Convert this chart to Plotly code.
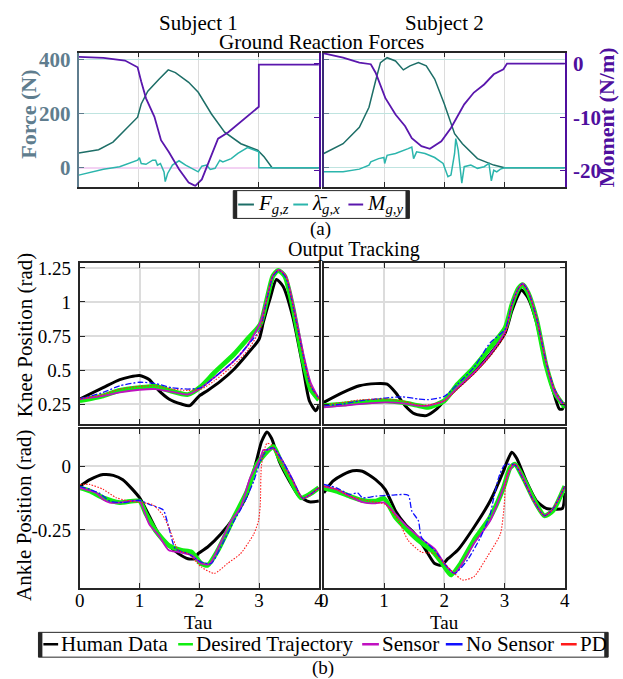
import plotly.graph_objects as go

# ---------------- Ground reaction forces (a) ----------------
# Subject 1
tau_fz1 = [0, 0.33, 0.57, 0.79, 0.98, 1.04, 1.15, 1.34, 1.49, 1.61, 1.83, 1.99, 2.21, 2.43, 2.70, 2.98, 3.09, 3.22, 4.0]
fz1 = [55, 67, 95, 144, 187, 236, 283, 328, 362, 352, 316, 279, 199, 132, 89, 65, 40, 0, 0]

tau_lx1 = [0, 0.41, 0.68, 0.98, 1.01, 1.04, 1.12, 1.23, 1.28, 1.31, 1.36, 1.42, 1.44, 1.48, 1.56, 1.67, 1.78,
           1.99, 2.05, 2.13, 2.19, 2.27, 2.35, 2.40, 2.54, 2.65, 2.81, 2.92, 2.999, 3.0, 4.0]
lx1 = [-27, -5, 4, 28, 37, 16, 13, 28, 28, 10, 16, -15, -51, -21, 10, 26, 10,
       -15, 6, 10, -6, -2, 28, 22, 34, 53, 75, 65, 59, 0, 0]

tau_my1 = [0, 0.41, 0.77, 0.90, 0.98, 1.04, 1.12, 1.26, 1.37, 1.50, 1.67, 1.83, 1.94, 2.05, 2.16, 2.32,
           2.49, 2.70, 2.999, 3.0, 4.0]
my1 = [1.26, 1.07, 0.57, -0.19, -0.69, -3.33, -6.48, -9.94, -14.3, -16.5, -19.7, -22.2, -22.8, -21.6, -18.4, -14.0,
       -12.8, -10.9, -8.05, -0.19, -0.19]

# Subject 2
tau_fz2 = [0, 0.32, 0.59, 0.75, 0.86, 0.94, 1.05, 1.19, 1.32, 1.43, 1.57, 1.70, 1.84, 2.0, 2.17, 2.30, 2.55, 2.82, 3.0, 4.0]
fz2 = [53, 89, 150, 224, 322, 389, 407, 395, 362, 377, 389, 377, 328, 236, 126, 89, 34, 10, 0, 0]

tau_lx2 = [0, 0.32, 0.59, 0.75, 0.78, 0.91, 0.997, 1.01, 1.05, 1.19, 1.40, 1.46, 1.49, 1.54, 1.68, 1.84, 1.98,
           2.06, 2.11, 2.17, 2.19, 2.23, 2.29, 2.33, 2.44, 2.55, 2.66, 2.74, 2.78, 2.82, 2.87, 2.93, 3.0, 4.0]
lx2 = [-15, -15, -5, 10, 22, 34, 38, 16, 46, 53, 71, 77, 34, 59, 53, 38, 16,
       -33, -27, 53, 108, 65, -57, 4, 10, -2, 4, 16, -48, -9, -15, -5, 0, 0]

tau_my2 = [0, 0.32, 0.59, 0.78, 0.86, 1.02, 1.19, 1.35, 1.46, 1.62, 1.76, 1.95, 2.11, 2.33, 2.49, 2.66, 2.82,
           2.98, 3.04, 4.0]
my2 = [1.9, 1.1, 0.19, -0.12, -1.7, -6.4, -9.5, -11.7, -13.9, -15.4, -15.9, -14.5, -12.0, -7.6, -5.4, -3.9, -2.0,
       -1.06, 0, 0]

# ---------------- Output tracking (b) ----------------
# Knee, subject 1
tk_h1 = [0, 0.39, 0.67, 1.0, 1.16, 1.32, 1.49, 1.70, 1.84, 2.0, 2.14, 2.36, 2.58, 2.80, 3.0, 3.07, 3.18, 3.29, 3.40, 3.56, 3.73, 3.84, 3.95, 4.0]
knee_h1 = [0.287, 0.37, 0.43, 0.46, 0.43, 0.35, 0.287, 0.25, 0.238, 0.31, 0.35, 0.42, 0.506, 0.616, 0.726, 0.85, 1.02, 1.165, 1.116, 0.896, 0.53, 0.274, 0.20, 0.24]
tk_d1 = [0, 0.39, 0.67, 1.0, 1.27, 1.49, 1.81, 2.03, 2.25, 2.58, 2.80, 3.02, 3.13, 3.23, 3.32, 3.43, 3.56, 3.73, 3.86, 4.0]
knee_d1 = [0.275, 0.31, 0.35, 0.37, 0.38, 0.35, 0.32, 0.38, 0.48, 0.616, 0.726, 0.835, 1.02, 1.19, 1.233, 1.19, 0.97, 0.58, 0.36, 0.28]
tk_c1 = [0, 0.39, 0.67, 1.0, 1.27, 1.54, 1.81, 2.03, 2.25, 2.58, 2.80, 3.02, 3.13, 3.23, 3.33, 3.45, 3.59, 3.75, 3.86, 4.0]
knee_s1 = [0.287, 0.31, 0.335, 0.355, 0.36, 0.34, 0.32, 0.37, 0.445, 0.567, 0.677, 0.85, 1.03, 1.19, 1.238, 1.19, 0.945, 0.60, 0.41, 0.29]
knee_n1 = [0.287, 0.335, 0.384, 0.41, 0.40, 0.37, 0.36, 0.37, 0.445, 0.567, 0.677, 0.80, 1.02, 1.19, 1.233, 1.177, 0.92, 0.58, 0.384, 0.29]
knee_p1 = [0.287, 0.32, 0.36, 0.38, 0.384, 0.36, 0.35, 0.36, 0.42, 0.54, 0.64, 0.80, 1.02, 1.20, 1.233, 1.19, 0.92, 0.58, 0.384, 0.29]

# Knee, subject 2
tk_h2 = [0, 0.32, 0.59, 0.86, 1.05, 1.19, 1.35, 1.51, 1.70, 1.87, 2.0, 2.22, 2.49, 2.76, 3.01, 3.12, 3.23, 3.28, 3.39, 3.53, 3.69, 3.83, 3.91, 3.96, 4.0]
knee_h2 = [0.262, 0.335, 0.384, 0.40, 0.396, 0.335, 0.238, 0.177, 0.165, 0.213, 0.274, 0.372, 0.482, 0.616, 0.774, 0.933, 1.055, 1.09, 1.03, 0.85, 0.53, 0.31, 0.213, 0.213, 0.262]
tk_c2 = [0, 0.32, 0.59, 1.02, 1.30, 1.57, 1.73, 2.0, 2.22, 2.49, 2.76, 3.01, 3.12, 3.23, 3.30, 3.39, 3.53, 3.69, 3.83, 3.94, 4.0]
knee_d2 = [0.238, 0.25, 0.262, 0.274, 0.262, 0.238, 0.226, 0.274, 0.396, 0.518, 0.665, 0.81, 0.98, 1.10, 1.128, 1.067, 0.872, 0.53, 0.335, 0.262, 0.226]
knee_s2 = [0.226, 0.238, 0.25, 0.262, 0.257, 0.238, 0.238, 0.274, 0.372, 0.48, 0.616, 0.786, 0.98, 1.10, 1.135, 1.08, 0.884, 0.555, 0.335, 0.262, 0.238]
knee_n2 = [0.238, 0.25, 0.274, 0.294, 0.303, 0.287, 0.282, 0.306, 0.396, 0.518, 0.70, 0.80, 0.98, 1.10, 1.135, 1.08, 0.884, 0.555, 0.36, 0.274, 0.238]
knee_p2 = [0.243, 0.262, 0.28, 0.287, 0.274, 0.243, 0.243, 0.274, 0.36, 0.47, 0.60, 0.76, 0.98, 1.10, 1.128, 1.08, 0.884, 0.555, 0.36, 0.274, 0.238]

# Ankle, subject 1
ta_h1 = [0, 0.17, 0.39, 0.56, 0.72, 1.0, 1.16, 1.32, 1.49, 1.65, 1.81, 1.92, 1.98, 2.14, 2.36, 2.58, 2.80, 2.96, 3.04, 3.13, 3.21, 3.34, 3.51, 3.67, 3.84, 4.0]
ankle_h1 = [-0.078, -0.052, -0.032, -0.035, -0.052, -0.123, -0.194, -0.266, -0.311, -0.343, -0.363, -0.363, -0.343, -0.317, -0.266, -0.20, -0.11, 0.026, 0.097, 0.136, 0.11, 0.019, -0.058, -0.117, -0.139, -0.136]
ta_d1 = [0, 0.17, 0.39, 0.67, 1.0, 1.11, 1.27, 1.49, 1.70, 1.87, 2.03, 2.14, 2.31, 2.58, 2.80, 2.96, 3.13, 3.24, 3.34, 3.51, 3.70, 3.84, 4.0]
ankle_d1 = [-0.084, -0.097, -0.123, -0.142, -0.136, -0.188, -0.253, -0.311, -0.33, -0.337, -0.382, -0.389, -0.33, -0.20, -0.097, 0.006, 0.058, 0.078, 0.032, -0.045, -0.123, -0.11, -0.084]
ta_s1 = [0, 0.28, 0.39, 0.50, 0.67, 0.83, 1.0, 1.16, 1.32, 1.49, 1.65, 1.87, 2.03, 2.17, 2.31, 2.53, 2.69, 2.85, 3.02, 3.07, 3.13, 3.24, 3.40, 3.56, 3.73, 3.86, 4.0]
ankle_s1 = [-0.084, -0.104, -0.13, -0.142, -0.142, -0.136, -0.136, -0.227, -0.272, -0.33, -0.337, -0.35, -0.382, -0.385, -0.324, -0.214, -0.162, -0.045, 0.032, 0.065, 0.065, 0.071, 0.019, -0.052, -0.126, -0.11, -0.084]
ta_n1 = [0, 0.17, 0.34, 0.50, 0.72, 1.0, 1.16, 1.32, 1.40, 1.49, 1.60, 1.81, 2.03, 2.20, 2.36, 2.58, 2.74, 2.91, 3.02, 3.13, 3.24, 3.40, 3.56, 3.73, 3.86, 4.0]
ankle_n1 = [-0.078, -0.09, -0.107, -0.136, -0.142, -0.133, -0.149, -0.162, -0.172, -0.24, -0.324, -0.343, -0.376, -0.382, -0.317, -0.214, -0.149, -0.058, 0.019, 0.065, 0.074, 0.019, -0.052, -0.126, -0.11, -0.084]
ta_p1 = [0, 0.17, 0.39, 0.61, 0.83, 1.0, 1.21, 1.38, 1.49, 1.65, 1.81, 2.03, 2.25, 2.47, 2.69, 2.91, 2.99, 3.02, 3.04, 3.13, 3.21, 3.37, 3.56, 3.73, 3.86, 4.0]
ankle_p1 = [-0.071, -0.071, -0.09, -0.123, -0.136, -0.142, -0.149, -0.188, -0.24, -0.33, -0.343, -0.395, -0.421, -0.382, -0.343, -0.266, -0.214, -0.149, 0.006, 0.091, 0.084, 0.013, -0.058, -0.126, -0.11, -0.084]

# Ankle, subject 2
ta_h2 = [0, 0.15, 0.32, 0.48, 0.64, 0.86, 1.02, 1.19, 1.35, 1.51, 1.68, 1.84, 1.95, 2.06, 2.22, 2.49, 2.76, 2.98, 3.04, 3.12, 3.20, 3.36, 3.53, 3.69, 3.85, 3.96, 4.0]
ankle_h2 = [-0.104, -0.058, -0.032, -0.017, -0.019, -0.052, -0.091, -0.175, -0.227, -0.266, -0.324, -0.382, -0.389, -0.363, -0.33, -0.24, -0.136, -0.019, 0.019, 0.056, 0.032, -0.058, -0.136, -0.165, -0.168, -0.165, -0.104]
ta_d2 = [0, 0.21, 0.43, 0.64, 0.86, 1.0, 1.19, 1.40, 1.57, 1.79, 1.95, 2.11, 2.27, 2.49, 2.76, 2.98, 3.09, 3.17, 3.31, 3.47, 3.66, 3.80, 4.0]
ankle_d2 = [-0.084, -0.097, -0.117, -0.133, -0.136, -0.126, -0.20, -0.253, -0.291, -0.33, -0.376, -0.427, -0.382, -0.291, -0.20, -0.084, -0.006, 0.009, -0.045, -0.123, -0.194, -0.175, -0.078]
ta_s2 = [0, 0.21, 0.43, 0.64, 0.86, 1.0, 1.19, 1.40, 1.62, 1.84, 2.0, 2.17, 2.33, 2.49, 2.76, 2.98, 3.09, 3.17, 3.31, 3.47, 3.66, 3.80, 4.0]
ankle_s2 = [-0.078, -0.09, -0.117, -0.14, -0.145, -0.142, -0.188, -0.24, -0.285, -0.324, -0.382, -0.421, -0.369, -0.304, -0.214, -0.084, -0.013, 0.009, -0.045, -0.13, -0.194, -0.168, -0.078]
ta_n2 = [0, 0.21, 0.43, 0.56, 0.64, 0.86, 1.13, 1.40, 1.46, 1.57, 1.62, 1.84, 2.0, 2.17, 2.38, 2.60, 2.76, 2.82, 2.90, 3.0, 3.17, 3.31, 3.47, 3.66, 3.80, 4.0]
ankle_n2 = [-0.071, -0.084, -0.11, -0.104, -0.123, -0.117, -0.113, -0.113, -0.175, -0.214, -0.279, -0.33, -0.382, -0.421, -0.369, -0.279, -0.188, -0.123, -0.045, 0.006, 0.006, -0.052, -0.13, -0.194, -0.168, -0.078]
ta_p2 = [0, 0.21, 0.43, 0.75, 1.02, 1.24, 1.40, 1.62, 1.84, 2.0, 2.17, 2.30, 2.49, 2.71, 2.93, 2.99, 3.03, 3.12, 3.20, 3.31, 3.47, 3.66, 3.80, 4.0]
ankle_p2 = [-0.078, -0.09, -0.117, -0.136, -0.149, -0.214, -0.291, -0.337, -0.343, -0.382, -0.421, -0.447, -0.434, -0.356, -0.266, -0.162, -0.045, 0.006, 0.006, -0.052, -0.13, -0.194, -0.168, -0.078]

# legend labels
grf_labels = ["<i>F</i><sub><i>g,z</i></sub>", "<i>λ\u0304</i><sub><i>g,x</i></sub>", "<i>M</i><sub><i>g,y</i></sub>"]
track_labels = ["Human Data", "Desired Trajectory", "Sensor", "No Sensor", "PD"]

# ---------------- figure ----------------
W, H = 623, 679
FONT = "Liberation Serif"
SLATE = "#5f7d8e"
PURPLE = "#4f0f9e"
C_FZ = "#1d6e67"
C_LX = "#2bb5ac"
C_MY = "#5a17ad"
FRAME = "#262626"
GRID = "#dcdcdc"


def xd(a, b):
    return [a / W, b / W]


def yd(top, bottom):
    return [1 - bottom / H, 1 - top / H]


fig = go.Figure()

grf_colors = [C_FZ, C_LX, C_MY]
fig.add_trace(go.Scatter(x=tau_fz1, y=fz1, mode="lines", line=dict(color=C_FZ, width=1.5),
                         name=grf_labels[0], xaxis="x", yaxis="y"))
fig.add_trace(go.Scatter(x=tau_lx1, y=lx1, mode="lines", line=dict(color=C_LX, width=1.5),
                         name=grf_labels[1], xaxis="x", yaxis="y"))
fig.add_trace(go.Scatter(x=tau_my1, y=my1, mode="lines", line=dict(color=C_MY, width=1.8),
                         name=grf_labels[2], xaxis="x", yaxis="y2"))
fig.add_trace(go.Scatter(x=tau_fz2, y=fz2, mode="lines", line=dict(color=C_FZ, width=1.5),
                         name=grf_labels[0], xaxis="x2", yaxis="y3"))
fig.add_trace(go.Scatter(x=tau_lx2, y=lx2, mode="lines", line=dict(color=C_LX, width=1.5),
                         name=grf_labels[1], xaxis="x2", yaxis="y3"))
fig.add_trace(go.Scatter(x=tau_my2, y=my2, mode="lines", line=dict(color=C_MY, width=1.8),
                         name=grf_labels[2], xaxis="x2", yaxis="y4"))

styles = {
    "Human Data": dict(color="black", width=3),
    "Desired Trajectory": dict(color="#11ee11", width=4.8),
    "Sensor": dict(color="#c010c0", width=1.8),
    "No Sensor": dict(color="#1010ff", width=1.3, dash="6px,2px,2px,2px"),
    "PD": dict(color="#ff1a1a", width=1.1, dash="1.5px,1.5px"),
}

panels = [
    ("x3", "y5", [(tk_h1, knee_h1), (tk_d1, knee_d1), (tk_c1, knee_s1), (tk_c1, knee_n1), (tk_c1, knee_p1)]),
    ("x4", "y6", [(tk_h2, knee_h2), (tk_c2, knee_d2), (tk_c2, knee_s2), (tk_c2, knee_n2), (tk_c2, knee_p2)]),
    ("x5", "y7", [(ta_h1, ankle_h1), (ta_d1, ankle_d1), (ta_s1, ankle_s1), (ta_n1, ankle_n1), (ta_p1, ankle_p1)]),
    ("x6", "y8", [(ta_h2, ankle_h2), (ta_d2, ankle_d2), (ta_s2, ankle_s2), (ta_n2, ankle_n2), (ta_p2, ankle_p2)]),
]
for xa, ya, series in panels:
    for name, (tx, vy) in zip(track_labels, series):
        fig.add_trace(go.Scatter(x=tx, y=vy, mode="lines", name=name,
                                 line=dict(shape="spline", smoothing=0.6, **styles[name]),
                                 xaxis=xa, yaxis=ya))

tickfont_b = dict(family=FONT, size=19, color="black")

common_x = dict(range=[0, 4], tickvals=[0, 1, 2, 3, 4], showgrid=True, gridcolor=GRID, gridwidth=1.5,
                showline=True, linecolor=FRAME, linewidth=2, mirror="ticks", ticks="inside",
                ticklen=5, tickcolor=FRAME, zeroline=False, fixedrange=True)

top_x = dict(common_x, linewidth=1.5, gridwidth=1.2, showticklabels=False)
fig.update_layout(
    xaxis=dict(top_x, domain=xd(75, 319), anchor="y"),
    xaxis2=dict(top_x, domain=xd(324, 569), anchor="y3"),
    yaxis=dict(domain=yd(48, 183), range=[-69.7, 425.7], anchor="x", tickvals=[0, 200, 400],
               showgrid=True, gridcolor="#bfe4e0", gridwidth=1.2, zeroline=True, zerolinecolor="#f3d2f3",
               zerolinewidth=1.5, showline=True, linecolor=SLATE, linewidth=2, ticks="inside", ticklen=5,
               tickcolor=SLATE, tickfont=dict(family=FONT, size=21, color=SLATE, weight="bold"),
               ticklabelstandoff=2, fixedrange=True),
    yaxis2=dict(domain=yd(48, 183), range=[-22.96, 2.04], overlaying="y", anchor="x", side="right",
                showgrid=False, zeroline=False, showline=True, linecolor=PURPLE, linewidth=2,
                ticks="inside", ticklen=5, tickcolor=PURPLE, tickvals=[-20, -10, 0], showticklabels=False,
                fixedrange=True),
    yaxis3=dict(domain=yd(48, 183), range=[-69.7, 425.7], anchor="x2", tickvals=[0, 200, 400],
                showgrid=True, gridcolor="#bfe4e0", gridwidth=1.2, zeroline=True, zerolinecolor="#bfe4e0",
                zerolinewidth=1.2, showline=True, linecolor="#3b2a78", linewidth=2, ticks="inside", ticklen=5,
                tickcolor=SLATE, showticklabels=False, fixedrange=True),
    yaxis4=dict(domain=yd(48, 183), range=[-22.96, 2.04], overlaying="y3", anchor="x2", side="right",
                showgrid=False, zeroline=False, showline=True, linecolor=PURPLE, linewidth=2,
                ticks="inside", ticklen=5, tickcolor=PURPLE, tickvals=[-20, -10, 0], ticktext=["-20", "-10", "0"],
                tickfont=dict(family=FONT, size=21, color=PURPLE, weight="bold"), ticklabelstandoff=2,
                fixedrange=True),
    xaxis3=dict(common_x, domain=xd(76, 319), anchor="y5", showticklabels=False),
    xaxis4=dict(common_x, domain=xd(324, 569), anchor="y6", showticklabels=False),
    xaxis5=dict(common_x, domain=xd(76, 319), anchor="y7", tickfont=tickfont_b, ticklabelstandoff=-5),
    xaxis6=dict(common_x, domain=xd(324, 569), anchor="y8", tickfont=tickfont_b, ticklabelstandoff=-5),
)

common_y = dict(showgrid=True, gridcolor=GRID, gridwidth=1.5, showline=True, linecolor=FRAME, linewidth=2,
                mirror="ticks", ticks="inside", ticklen=5, tickcolor=FRAME, zeroline=False, fixedrange=True,
                tickfont=tickfont_b, ticklabelstandoff=3)
knee_ticks = [0.25, 0.5, 0.75, 1, 1.25]
knee_text = ["0.25", "0.5", "0.75", "1", "1.25"]
ankle_ticks = [-0.25, 0]
ankle_text = ["-0.25", "0"]
fig.update_layout(
    yaxis5=dict(common_y, domain=yd(260, 422), range=[0.104, 1.286], anchor="x3", tickvals=knee_ticks, ticktext=knee_text),
    yaxis6=dict(common_y, domain=yd(260, 422), range=[0.104, 1.286], anchor="x4", tickvals=knee_ticks, showticklabels=False),
    yaxis7=dict(common_y, domain=yd(427, 587), range=[-0.477, 0.148], anchor="x5", tickvals=ankle_ticks, ticktext=ankle_text),
    yaxis8=dict(common_y, domain=yd(427, 587), range=[-0.477, 0.148], anchor="x6", tickvals=ankle_ticks, showticklabels=False),
)

ann = []
shapes = []


def text(x, y, s, size=21, color="black", angle=0, bold=False, xanchor="center"):
    ann.append(dict(x=x / W, y=1 - y / H, xref="paper", yref="paper", text=s, showarrow=False,
                    textangle=angle, xanchor=xanchor, yanchor="middle",
                    font=dict(family=FONT, size=size, color=color, weight="bold" if bold else "normal")))


def rect(x0, y0, x1, y1, fill=None, line_color=None, lw=0):
    shapes.append(dict(type="rect", xref="paper", yref="paper", x0=x0 / W, x1=x1 / W,
                       y0=1 - y1 / H, y1=1 - y0 / H, fillcolor=fill or "rgba(0,0,0,0)",
                       line=dict(width=lw, color=line_color or "rgba(0,0,0,0)"), layer="above"))


def seg(x0, x1, y, color, width=2):
    shapes.append(dict(type="line", xref="paper", yref="paper", x0=x0 / W, x1=x1 / W,
                       y0=1 - y / H, y1=1 - y / H, line=dict(color=color, width=width), layer="above"))


text(197, 18, "Subject 1")
text(447, 18, "Subject 2")
text(322, 37, "Ground Reaction Forces")
text(24, 110, "Force (N)", size=22, color=SLATE, angle=-90, bold=True)
text(611, 113, "Moment (N/m)", size=22, color=PURPLE, angle=-90, bold=True)
text(321, 226, "(a)", size=19)
text(355, 246, "Output Tracking", size=20)
text(20, 333, "Knee Position (rad)", angle=-90, size=21)
text(20, 514, "Ankle Position (rad)", angle=-90, size=21)
text(197, 622, "Tau", size=19)
text(447, 622, "Tau", size=19)
text(323, 668, "(b)", size=19)

# legend (a)
rect(232, 187, 411, 215, fill="white", line_color=FRAME, lw=1)
rect(232, 187, 236, 215, fill=FRAME)
rect(407, 187, 411, 215, fill=FRAME)
for (lx0, lx1, tx), lab, col in zip([(237, 253, 255), (293, 308, 310), (349, 364, 366)], grf_labels, grf_colors):
    seg(lx0, lx1, 201, col, 2)
    text(tx, 200, lab, size=21, xanchor="left")

# legend (b)
rect(34, 632, 613, 657, fill="white", line_color=FRAME, lw=1)
rect(34, 632, 38, 657, fill=FRAME)
rect(609, 632, 613, 657, fill=FRAME)
for (lx0, lx1, tx), lab in zip([(39, 54, 55), (176, 191, 192), (363, 380, 381), (448, 465, 466), (565, 581, 582)],
                               track_labels):
    seg(lx0, lx1, 644, styles[lab]["color"], 2.5)
    text(tx, 644, lab, size=21, xanchor="left")

fig.update_layout(
    width=W, height=H, margin=dict(l=0, r=0, t=0, b=0),
    paper_bgcolor="white", plot_bgcolor="white",
    annotations=ann, shapes=shapes, showlegend=False,
)

fig.write_html("out.html", config={"displayModeBar": False},
               post_script="document.body.style.margin='0px';document.body.style.padding='0px';")
